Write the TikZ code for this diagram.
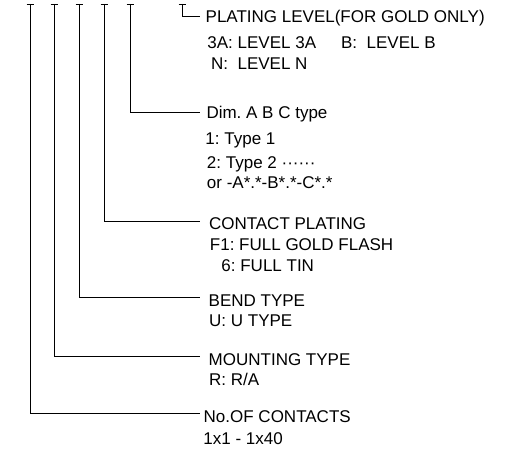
\documentclass[tikz,border=0pt]{standalone}
\usepackage{fontspec}
\setmainfont{Liberation Sans}
\frenchspacing
\usepackage{tikz}
\tikzstyle{every node}=[font=\fontsize{17}{20}\selectfont]
\tikzset{
  head/.style args={#1/#2}{anchor=base west, inner sep=0pt, outer xsep=#1, outer ysep=0pt, text height=#2, text depth=0pt},
  sub/.style={anchor=base west, inner sep=0pt},
}

\begin{document}
\begin{tikzpicture}[x=1pt,y=-1pt,line width=0.9pt]
		\useasboundingbox (0,0) rectangle (518,454);
		% top ends of the leads
		\coordinate (t1) at (30,4); \coordinate (t2) at (54,4); \coordinate (t3) at (79,4);
		\coordinate (t4) at (104,4); \coordinate (t5) at (130,4); \coordinate (t6) at (182,4);
		\draw (26.5,4) -- (33.5,4); \draw (50.5,4) -- (57.5,4); \draw (75.5,4) -- (82.5,4); \draw (100.5,4) -- (107.5,4); \draw (126.5,4) -- (133.5,4); \draw (178.5,4) -- (185.5,4); % ticks
		% plating level
		\node[head={5.7pt/11.4pt}] (lvl) at (200,22.3) {PLATING LEVEL(FOR GOLD ONLY)};
		\node[sub] (lvla) at (207,49) {3A: LEVEL 3A\hspace{25pt}B:\ \ LEVEL B};
		\node[sub] (lvln) at (210.7,69.5) {N:\ \ LEVEL N};
		% dimension type
		\node[head={6.5pt/14pt}] (dim) at (200,119) {Dim. A B C type};
		\node[sub] (dima) at (205,144.5) {1: Type 1};
		\node[sub] (dimb) at (206.5,168) {2: Type 2 ······};
		\node[sub] (dimc) at (206.5,188) {or -A*.*-B*.*-C*.*};
		% contact plating
		\node[head={9pt/15pt}] (plt) at (200,229.3) {CONTACT PLATING};
		\node[sub] (plta) at (209.5,250) {F1: FULL GOLD FLASH};
		\node[sub] (pltb) at (221,271.5) {6: FULL TIN};
		% bend type
		\node[head={8.7pt/18pt}] (bnd) at (200,306) {BEND TYPE};
		\node[sub] (bnda) at (208.7,326) {U: U TYPE};
		% mounting type
		\node[head={8.7pt/18pt}] (mnt) at (200,365.5) {MOUNTING TYPE};
		\node[sub] (mnta) at (208.7,385) {R: R/A};
		% number of contacts
		\node[head={3.7pt/19pt}] (cnt) at (200,422.7) {No.OF CONTACTS};
		\node[sub] (cnta) at (203,444) {1x1 - 1x40};
		% leads
		\draw (t1) |- (cnt.west);
		\draw (t2) |- (mnt.west);
		\draw (t3) |- (bnd.west);
		\draw (t4) |- (plt.west);
		\draw (t5) |- (dim.west);
		\draw (t6) |- (lvl.west);
	\end{tikzpicture}
\end{document}
